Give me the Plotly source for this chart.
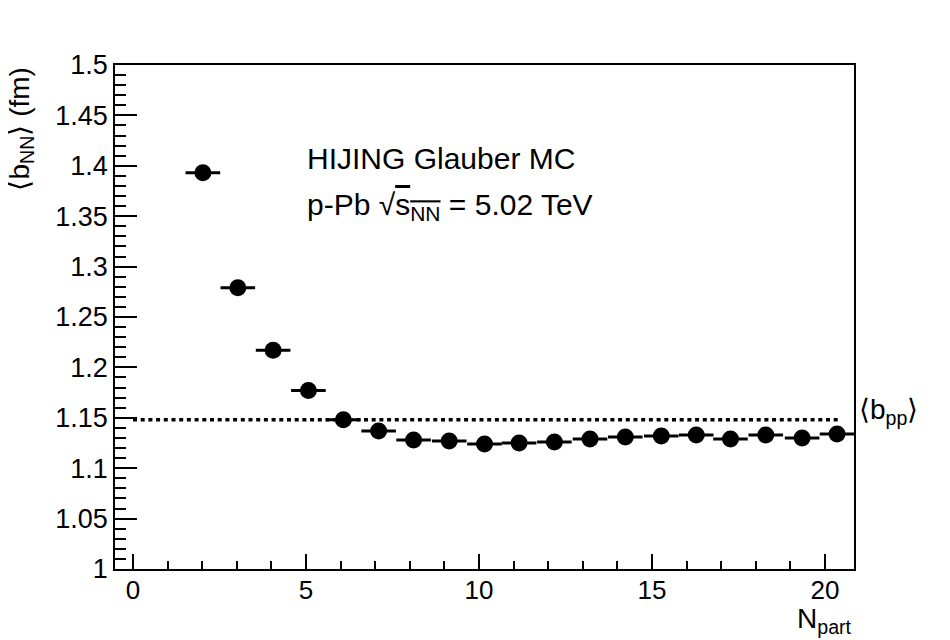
import plotly.graph_objects as go

# mean N_part in each bin and <b_NN>
npart_mean = [2.02, 3.03, 4.05, 5.07, 6.08, 7.10, 8.11, 9.14, 10.16, 11.16,
              12.18, 13.21, 14.23, 15.27, 16.28, 17.27, 18.29, 19.34, 20.35]
b_nn = [1.393, 1.279, 1.217, 1.177, 1.148, 1.137, 1.128, 1.127, 1.124, 1.125,
        1.126, 1.129, 1.131, 1.132, 1.133, 1.129, 1.133, 1.130, 1.134]
npart_halfwidth = 0.5

# pp reference value and the x span of its dotted line
b_pp = 1.148
b_pp_span = [0, 20.4]

FONT = "Liberation Sans, Arial, Helvetica, sans-serif"

# the page puts the figure 8px in from the corner, so frame = 107..846 x 57..561
L, T, PW, PH = 115, 65, 739, 504


def to_paper(px, py):
    return (px - L) / PW, (T + PH - py) / PH


fig = go.Figure()

fig.add_trace(go.Scatter(
    x=b_pp_span,
    y=[b_pp, b_pp],
    mode='lines',
    line=dict(color='black', width=3.4, dash='4px,3.7px'),
    hoverinfo='skip',
))

fig.add_trace(go.Scatter(
    x=npart_mean,
    y=b_nn,
    mode='markers',
    marker=dict(color='black', size=17, symbol='circle'),
    error_x=dict(type='constant', value=npart_halfwidth, color='black',
                 thickness=3, width=0),
))

axis_common = dict(
    showgrid=False,
    zeroline=False,
    showline=True,
    linecolor='black',
    linewidth=1.5,
    mirror=True,
    ticks='inside',
    tickcolor='black',
    tickwidth=1.5,
)

fig.update_xaxes(
    range=[-0.52, 20.84],
    tick0=0, dtick=5, ticklen=15,
    minor=dict(dtick=1, ticklen=8, ticks='inside', tickcolor='black', tickwidth=1.5),
    ticklabelstandoff=-3,
    tickfont=dict(family=FONT, size=26, color='black'),
    **axis_common,
)
fig.update_yaxes(
    range=[1, 1.5],
    tick0=1, dtick=0.05, ticklen=22,
    minor=dict(dtick=0.01, ticklen=11, ticks='inside', tickcolor='black', tickwidth=1.5),
    ticklabelstandoff=0,
    tickfont=dict(family=FONT, size=27, color='black'),
    **axis_common,
)

anns = []
x0, y0 = to_paper(305, 158)
anns.append(dict(text='HIJING Glauber MC', x=x0, y=y0, xanchor='left', yanchor='middle',
                 xref='paper', yref='paper', showarrow=False, font=dict(size=30)))
x0, y0 = to_paper(305, 206)
anns.append(dict(text='p-Pb √<span style="text-decoration:overline">s<sub>NN</sub></span> = 5.02 TeV',
                 x=x0, y=y0, xanchor='left', yanchor='middle',
                 xref='paper', yref='paper', showarrow=False, font=dict(size=30)))
x0, _ = to_paper(857, 0)
anns.append(dict(text='⟨b<sub>pp</sub>⟩', xref='paper', yref='y',
                 x=x0, y=b_pp, xanchor='left', yanchor='middle',
                 yshift=8, showarrow=False, font=dict(size=28)))
_, y0 = to_paper(0, 601)
anns.append(dict(text='N<sub>part</sub>', xref='paper', yref='paper',
                 x=1.0, y=y0, xanchor='right', yanchor='top',
                 showarrow=False, font=dict(size=28)))
x0, y0 = to_paper(21, 66)
anns.append(dict(text='⟨b<sub>NN</sub>⟩ (fm)', xref='paper', yref='paper',
                 x=x0, y=y0, xanchor='center', yanchor='top',
                 textangle=-90, showarrow=False, font=dict(size=28)))

fig.update_layout(
    width=942,
    height=632,
    margin=dict(l=L - 8, r=942 - (L - 8) - PW, t=T - 8, b=632 - (T - 8) - PH, pad=0),
    paper_bgcolor='white',
    plot_bgcolor='white',
    showlegend=False,
    font=dict(family=FONT, color='black'),
    annotations=anns,
)

fig.write_html("out.html")
